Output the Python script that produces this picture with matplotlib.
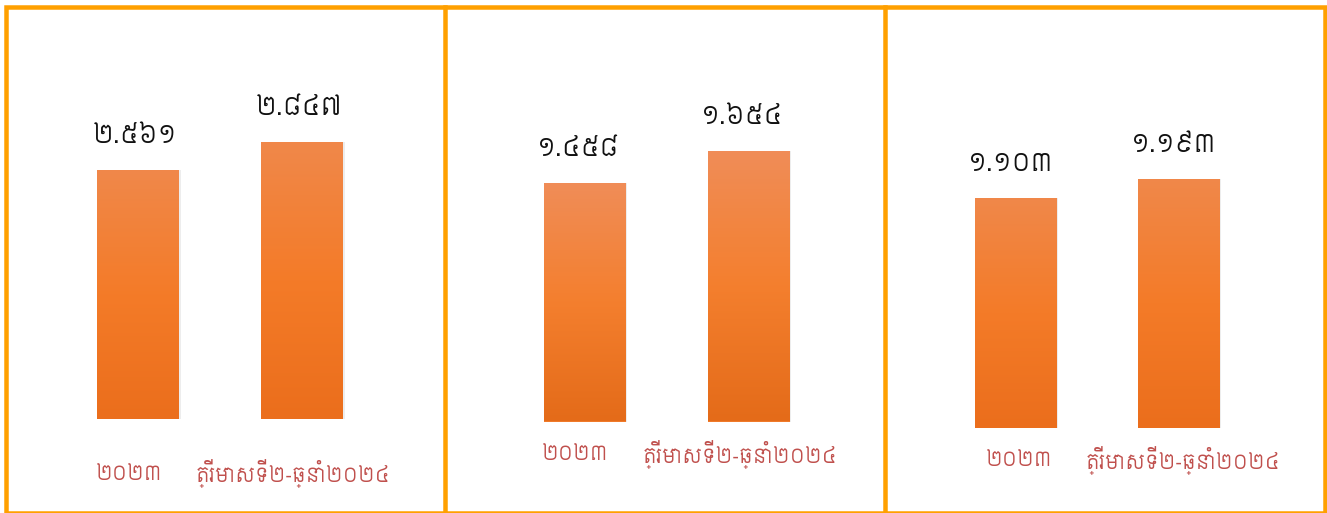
import numpy as np
import matplotlib
matplotlib.use("Agg")
import matplotlib.pyplot as plt
from matplotlib import font_manager as fm
from matplotlib.patches import Rectangle
from matplotlib.lines import Line2D
from matplotlib.colors import LinearSegmentedColormap

# ---------------- data ----------------
categories = ["២០២៣", "ត្រីមាសទី២-ឆ្នាំ២០២៤"]
panel1_values = [2.561, 2.847]
panel2_values = [1.458, 1.654]
panel3_values = [1.103, 1.193]
panel1_labels = ["២.៥៦១", "២.៨៤៧"]
panel2_labels = ["១.៤៥៨", "១.៦៥៤"]
panel3_labels = ["១.១០៣", "១.១៩៣"]

# ---------------- font lookup (Khmer) ----------------
for path in fm.findSystemFonts():
    try:
        fm.fontManager.addfont(path)
    except Exception:
        pass
available = {f.name for f in fm.fontManager.ttflist}
kh = None
for cand in ["Siemreap", "Noto Sans Khmer", "Kantumruy Pro", "Kantumruy",
             "Hanuman", "Battambang", "Content"]:
    if cand in available:
        kh = cand
        break
families = ([kh] if kh else []) + ["DejaVu Sans"]
plt.rcParams["font.family"] = families

W, H = 1327, 513
DPI = 100
fig = plt.figure(figsize=(W / DPI, H / DPI), dpi=DPI)
fig.patch.set_facecolor("white")

cmap_strong = LinearSegmentedColormap.from_list(
    "bar2", ["#F08D58", "#F47F2E", "#E46B19"], N=512)
cmap_soft = LinearSegmentedColormap.from_list(
    "bar1", ["#F0884A", "#F47B28", "#EB6E1C"], N=512)

panels = [
    dict(vals=panel1_values, labs=panel1_labels, c0=138.0, sp=164.0, base=419.0,
         scale=97.2, vdx=-3, cdx=-9, cy=474, cmap=cmap_soft),
    dict(vals=panel2_values, labs=panel2_labels, c0=584.5, sp=164.0, base=421.5,
         scale=163.3, vdx=-6, cdx=-9, cy=455, cmap=cmap_strong),
    dict(vals=panel3_values, labs=panel3_labels, c0=1015.5, sp=163.0, base=428.3,
         scale=209.0, vdx=-5, cdx=4, cy=461, cmap=cmap_soft),
]

XL, XR = -0.6, 1.6
YMAX_PX = 30.0

for p in panels:
    left_px = p["c0"] + XL * p["sp"]
    width_px = (XR - XL) * p["sp"]
    height_px = p["base"] - YMAX_PX
    ax = fig.add_axes([left_px / W, (H - p["base"]) / H, width_px / W, height_px / H])
    ax.set_xlim(XL, XR)
    ax.set_ylim(0, height_px / p["scale"])
    ax.axis("off")
    x = np.arange(len(categories))
    bars = ax.bar(x, p["vals"], width=0.5, color="#F07A2A", edgecolor="none", zorder=2)
    for b in bars:
        sh = Rectangle((b.get_x() + 0.012, 0), b.get_width(), b.get_height(),
                       facecolor="#888888", alpha=0.15, edgecolor="none", zorder=1)
        ax.add_patch(sh)
    grad = np.linspace(0, 1, 1024).reshape(-1, 1)
    for b in bars:
        x0, w, h = b.get_x(), b.get_width(), b.get_height()
        im = ax.imshow(grad, cmap=p["cmap"], aspect="auto", extent=(x0, x0 + w, 0, h),
                       origin="upper", zorder=3, interpolation="bilinear")
        im.set_clip_path(b)
    for i, (v, lab) in enumerate(zip(p["vals"], p["labs"])):
        ax.annotate(lab, xy=(i, v), xytext=(p["vdx"] * 0.72, 34 * 0.72),
                    textcoords="offset points", ha="center", va="center",
                    fontsize=18, color="#111111", zorder=5)
        cx = (p["c0"] + i * p["sp"] + p["cdx"]) / W
        fig.text(cx, (H - p["cy"]) / H, categories[i], ha="center", va="center",
                 fontsize=14.5, color="#C0504D")

# ---------------- borders ----------------
border = "#FFA000"
lw = 4.5 * 0.72
fig.add_artist(Rectangle((5.5 / W, (H - 512.5) / H), (1324.5 - 5.5) / W, (512.5 - 7) / H,
                         transform=fig.transFigure, fill=False, edgecolor=border,
                         linewidth=lw))
for xd in (445, 885):
    fig.add_artist(Line2D([xd / W, xd / W], [(H - 512.5) / H, (H - 7) / H],
                          transform=fig.transFigure, color=border, linewidth=lw))

fig.savefig("out.png", dpi=DPI, facecolor="white")
